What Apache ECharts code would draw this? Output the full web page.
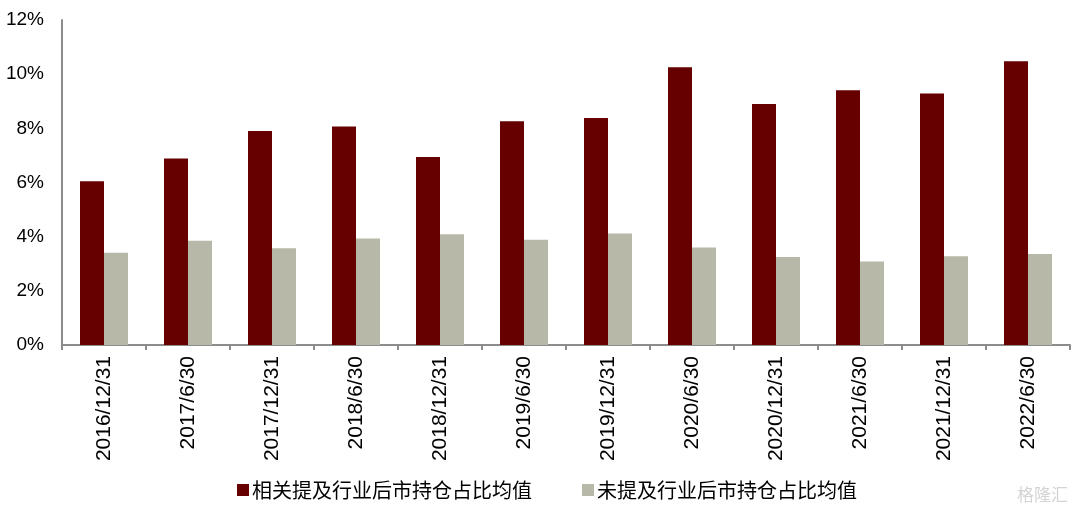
<!DOCTYPE html>
<html><head><meta charset="utf-8">
<script src="https://cdn.jsdelivr.net/npm/echarts@6/dist/echarts.min.js"></script>
<style>html,body{margin:0;padding:0;background:#fff}#c{width:1076px;height:511px}</style>
</head><body><div id="c"></div>
<script>
const categories = ['2016/12/31','2017/6/30','2017/12/31','2018/6/30','2018/12/31','2019/6/30','2019/12/31','2020/6/30','2020/12/31','2021/6/30','2021/12/31','2022/6/30'];
const seriesNames = ['相关提及行业后市持仓占比均值','未提及行业后市持仓占比均值'];
const mentioned = [6.05, 6.89, 7.90, 8.07, 6.94, 8.26, 8.38, 10.26, 8.90, 9.41, 9.29, 10.48];
const notMentioned = [3.41, 3.85, 3.57, 3.93, 4.09, 3.89, 4.12, 3.60, 3.25, 3.08, 3.28, 3.36];
const yTicks = [0, 2, 4, 6, 8, 10, 12];

const chart = echarts.init(document.getElementById('c'));
const font = 'Arial, "Liberation Sans", sans-serif';
chart.setOption({
  animation: false,
  backgroundColor: '#fff',
  grid: {left: 62, right: 6, top: 20, bottom: 166},
  legend: {
    bottom: 6, left: 232,
    itemWidth: 12, itemHeight: 12, itemGap: 50,
    icon: 'rect',
    textStyle: {fontFamily: '"Noto Sans CJK SC", sans-serif', fontSize: 20, color: '#000', padding: [0,0,0,-2]},
    data: seriesNames
  },
  xAxis: {
    type: 'category', data: categories,
    axisLine: {lineStyle: {color: '#8c8c8c', width: 2}},
    axisTick: {show: true, length: 5, lineStyle: {color: '#8c8c8c', width: 2}},
    axisLabel: {rotate: 90, margin: 11, fontFamily: font, fontSize: 21, color: '#000', interval: 0}
  },
  yAxis: {
    type: 'value', min: yTicks[0], max: yTicks[yTicks.length-1], interval: 2,
    axisLine: {show: true, lineStyle: {color: '#8c8c8c', width: 2}},
    axisTick: {show: false},
    splitLine: {show: false},
    axisLabel: {formatter: v => v + '%', fontFamily: font, fontSize: 19, color: '#000', margin: 18}
  },
  series: [
    {name: seriesNames[0], type: 'bar', data: mentioned, barWidth: 24, barGap: '0%', itemStyle: {color: '#660000'}},
    {name: seriesNames[1], type: 'bar', data: notMentioned, barWidth: 24, barGap: '0%', itemStyle: {color: '#b8b8a9'}}
  ],
  graphic: [{
    type: 'text', right: 8, bottom: 8,
    style: {text: '格隆汇', fontFamily: '"Noto Sans CJK SC", sans-serif', fontSize: 17, fill: '#d4d4d4'}
  }]
});
</script></body></html>
